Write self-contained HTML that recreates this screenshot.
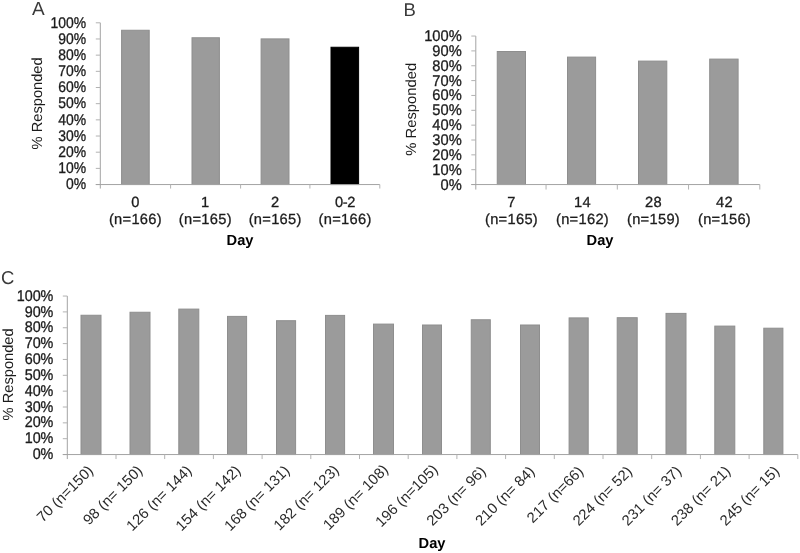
<!DOCTYPE html>
<html lang="en">
<head>
<meta charset="utf-8">
<title>Response rates by day</title>
<style>
html,body{margin:0;padding:0;background:#fff;}
body{width:800px;height:553px;overflow:hidden;}
svg{display:block;filter:blur(0.35px);}
text{font-family:"Liberation Sans", Arial, sans-serif;font-size:14.67px;text-anchor:middle;fill:#1c1c1c;text-rendering:geometricPrecision;}
text.e{text-anchor:end;}
text.x{stroke:#1c1c1c;stroke-width:0.3px;}
text.s{text-anchor:start;}
text.b{font-weight:bold;fill:#000;}
text.r{fill:#2b2b2b;}
text.h{fill:#3a3a3a;}
line{stroke:#a3a3a3;stroke-width:1;}
line.t{stroke:#b2b2b2;}
rect.bar{fill:#9b9b9b;stroke:#8e8e8e;stroke-width:1;}
rect.k{fill:#000;stroke:#000;}
</style>
</head>
<body>
<svg width="800" height="553" viewBox="0 0 800 553">
<rect x="0" y="0" width="800" height="553" fill="#ffffff"/>
<g id="chart-a">
<line x1="100.3" y1="22.8" x2="100.3" y2="188.55"/>
<line class="t" x1="95.8" y1="22.8" x2="100.3" y2="22.8"/>
<text class="x e" transform="translate(86.2 27.5) scale(0.95 1.06)">100%</text>
<line class="t" x1="95.8" y1="38.97" x2="100.3" y2="38.97"/>
<text class="x e" transform="translate(86.2 43.67) scale(0.95 1.06)">90%</text>
<line class="t" x1="95.8" y1="55.15" x2="100.3" y2="55.15"/>
<text class="x e" transform="translate(86.2 59.85) scale(0.95 1.06)">80%</text>
<line class="t" x1="95.8" y1="71.33" x2="100.3" y2="71.33"/>
<text class="x e" transform="translate(86.2 76.03) scale(0.95 1.06)">70%</text>
<line class="t" x1="95.8" y1="87.5" x2="100.3" y2="87.5"/>
<text class="x e" transform="translate(86.2 92.2) scale(0.95 1.06)">60%</text>
<line class="t" x1="95.8" y1="103.67" x2="100.3" y2="103.67"/>
<text class="x e" transform="translate(86.2 108.38) scale(0.95 1.06)">50%</text>
<line class="t" x1="95.8" y1="119.85" x2="100.3" y2="119.85"/>
<text class="x e" transform="translate(86.2 124.55) scale(0.95 1.06)">40%</text>
<line class="t" x1="95.8" y1="136.03" x2="100.3" y2="136.03"/>
<text class="x e" transform="translate(86.2 140.73) scale(0.95 1.06)">30%</text>
<line class="t" x1="95.8" y1="152.2" x2="100.3" y2="152.2"/>
<text class="x e" transform="translate(86.2 156.9) scale(0.95 1.06)">20%</text>
<line class="t" x1="95.8" y1="168.38" x2="100.3" y2="168.38"/>
<text class="x e" transform="translate(86.2 173.08) scale(0.95 1.06)">10%</text>
<line class="t" x1="95.8" y1="184.55" x2="100.3" y2="184.55"/>
<text class="x e" transform="translate(86.2 189.25) scale(0.95 1.06)">0%</text>
<rect class="bar" x="121.6" y="30.25" width="27.6" height="154.3"/>
<rect class="bar" x="192" y="37.75" width="27.4" height="146.8"/>
<rect class="bar" x="261.1" y="38.9" width="27.9" height="145.65"/>
<rect class="bar k" x="331" y="47.25" width="27.6" height="137.3"/>
<line x1="95.8" y1="184.55" x2="379.8" y2="184.55"/>
<line class="t" x1="170.6" y1="184.55" x2="170.6" y2="188.55"/>
<line class="t" x1="240.6" y1="184.55" x2="240.6" y2="188.55"/>
<line class="t" x1="309.9" y1="184.55" x2="309.9" y2="188.55"/>
<line class="t" x1="379.8" y1="184.55" x2="379.8" y2="188.55"/>
<text class="x" style="letter-spacing:0.3px" transform="translate(135.44 206.5)">0</text>
<text class="x" style="letter-spacing:0.3px" transform="translate(135.44 224)">(n=166)</text>
<text class="x" style="letter-spacing:0.3px" transform="translate(205.31 206.5)">1</text>
<text class="x" style="letter-spacing:0.3px" transform="translate(205.31 224)">(n=165)</text>
<text class="x" style="letter-spacing:0.3px" transform="translate(275.19 206.5)">2</text>
<text class="x" style="letter-spacing:0.3px" transform="translate(275.19 224)">(n=165)</text>
<text class="x" style="letter-spacing:-0.35px" transform="translate(345.06 206.5)">0-2</text>
<text class="x" style="letter-spacing:0.3px" transform="translate(345.06 224)">(n=166)</text>
<text transform="translate(41.9 103.4) rotate(-90)">% Responded</text>
<text class="b" transform="translate(240 245.3)">Day</text>
<text class="h s" style="font-size:19px" transform="translate(31.9 15.2)">A</text>
</g>
<g id="chart-b">
<line x1="475.8" y1="36.05" x2="475.8" y2="189.55"/>
<line class="t" x1="471.3" y1="36.05" x2="475.8" y2="36.05"/>
<text class="x e" transform="translate(461.7 41) scale(1 1.06)">100%</text>
<line class="t" x1="471.3" y1="50.9" x2="475.8" y2="50.9"/>
<text class="x e" transform="translate(461.7 55.85) scale(1 1.06)">90%</text>
<line class="t" x1="471.3" y1="65.75" x2="475.8" y2="65.75"/>
<text class="x e" transform="translate(461.7 70.7) scale(1 1.06)">80%</text>
<line class="t" x1="471.3" y1="80.6" x2="475.8" y2="80.6"/>
<text class="x e" transform="translate(461.7 85.55) scale(1 1.06)">70%</text>
<line class="t" x1="471.3" y1="95.45" x2="475.8" y2="95.45"/>
<text class="x e" transform="translate(461.7 100.4) scale(1 1.06)">60%</text>
<line class="t" x1="471.3" y1="110.3" x2="475.8" y2="110.3"/>
<text class="x e" transform="translate(461.7 115.25) scale(1 1.06)">50%</text>
<line class="t" x1="471.3" y1="125.15" x2="475.8" y2="125.15"/>
<text class="x e" transform="translate(461.7 130.1) scale(1 1.06)">40%</text>
<line class="t" x1="471.3" y1="140" x2="475.8" y2="140"/>
<text class="x e" transform="translate(461.7 144.95) scale(1 1.06)">30%</text>
<line class="t" x1="471.3" y1="154.85" x2="475.8" y2="154.85"/>
<text class="x e" transform="translate(461.7 159.8) scale(1 1.06)">20%</text>
<line class="t" x1="471.3" y1="169.7" x2="475.8" y2="169.7"/>
<text class="x e" transform="translate(461.7 174.65) scale(1 1.06)">10%</text>
<line class="t" x1="471.3" y1="184.55" x2="475.8" y2="184.55"/>
<text class="x e" transform="translate(461.7 189.5) scale(1 1.06)">0%</text>
<rect class="bar" x="497.25" y="51.5" width="28.25" height="133.05"/>
<rect class="bar" x="567.5" y="57.1" width="28.1" height="127.45"/>
<rect class="bar" x="638.5" y="61.1" width="28.3" height="123.45"/>
<rect class="bar" x="709.7" y="59.1" width="28.4" height="125.45"/>
<line x1="471.3" y1="184.55" x2="759.8" y2="184.55"/>
<line class="t" x1="546.05" y1="184.55" x2="546.05" y2="189.55"/>
<line class="t" x1="617.3" y1="184.55" x2="617.3" y2="189.55"/>
<line class="t" x1="688.55" y1="184.55" x2="688.55" y2="189.55"/>
<line class="t" x1="759.8" y1="184.55" x2="759.8" y2="189.55"/>
<text class="x" style="letter-spacing:0.3px" transform="translate(511.5 206.5)">7</text>
<text class="x" style="letter-spacing:0.3px" transform="translate(511.5 224)">(n=165)</text>
<text class="x" style="letter-spacing:0.3px" transform="translate(582.5 206.5)">14</text>
<text class="x" style="letter-spacing:0.3px" transform="translate(582.5 224)">(n=162)</text>
<text class="x" style="letter-spacing:0.3px" transform="translate(653.5 206.5)">28</text>
<text class="x" style="letter-spacing:0.3px" transform="translate(653.5 224)">(n=159)</text>
<text class="x" style="letter-spacing:0.3px" transform="translate(724.5 206.5)">42</text>
<text class="x" style="letter-spacing:0.3px" transform="translate(724.5 224)">(n=156)</text>
<text transform="translate(415.9 109.3) rotate(-90) scale(1.01 1)">% Responded</text>
<text class="b" transform="translate(600 245.3)">Day</text>
<text class="h s" style="font-size:18.5px" transform="translate(403.4 15.8)">B</text>
</g>
<g id="chart-c">
<line x1="67.3" y1="296.05" x2="67.3" y2="459.05"/>
<line class="t" x1="62.8" y1="296.05" x2="67.3" y2="296.05"/>
<text class="x e" transform="translate(53.4 300.65) scale(0.98 1.06)">100%</text>
<line class="t" x1="62.8" y1="311.9" x2="67.3" y2="311.9"/>
<text class="x e" transform="translate(53.4 316.5) scale(0.98 1.06)">90%</text>
<line class="t" x1="62.8" y1="327.75" x2="67.3" y2="327.75"/>
<text class="x e" transform="translate(53.4 332.35) scale(0.98 1.06)">80%</text>
<line class="t" x1="62.8" y1="343.6" x2="67.3" y2="343.6"/>
<text class="x e" transform="translate(53.4 348.2) scale(0.98 1.06)">70%</text>
<line class="t" x1="62.8" y1="359.45" x2="67.3" y2="359.45"/>
<text class="x e" transform="translate(53.4 364.05) scale(0.98 1.06)">60%</text>
<line class="t" x1="62.8" y1="375.3" x2="67.3" y2="375.3"/>
<text class="x e" transform="translate(53.4 379.9) scale(0.98 1.06)">50%</text>
<line class="t" x1="62.8" y1="391.15" x2="67.3" y2="391.15"/>
<text class="x e" transform="translate(53.4 395.75) scale(0.98 1.06)">40%</text>
<line class="t" x1="62.8" y1="407" x2="67.3" y2="407"/>
<text class="x e" transform="translate(53.4 411.6) scale(0.98 1.06)">30%</text>
<line class="t" x1="62.8" y1="422.85" x2="67.3" y2="422.85"/>
<text class="x e" transform="translate(53.4 427.45) scale(0.98 1.06)">20%</text>
<line class="t" x1="62.8" y1="438.7" x2="67.3" y2="438.7"/>
<text class="x e" transform="translate(53.4 443.3) scale(0.98 1.06)">10%</text>
<line class="t" x1="62.8" y1="454.55" x2="67.3" y2="454.55"/>
<text class="x e" transform="translate(53.4 459.15) scale(0.98 1.06)">0%</text>
<rect class="bar" x="81" y="315.25" width="20" height="139.3"/>
<rect class="bar" x="130" y="312.25" width="20" height="142.3"/>
<rect class="bar" x="178.8" y="309.1" width="20" height="145.45"/>
<rect class="bar" x="227.5" y="316.4" width="19.1" height="138.15"/>
<rect class="bar" x="276.5" y="320.7" width="19.1" height="133.85"/>
<rect class="bar" x="325.5" y="315.4" width="19.1" height="139.15"/>
<rect class="bar" x="373.5" y="324.1" width="20" height="130.45"/>
<rect class="bar" x="422.5" y="325" width="19" height="129.55"/>
<rect class="bar" x="471.25" y="319.75" width="19.05" height="134.8"/>
<rect class="bar" x="520.5" y="325" width="19" height="129.55"/>
<rect class="bar" x="569.1" y="317.9" width="19.1" height="136.65"/>
<rect class="bar" x="617.2" y="317.7" width="20" height="136.85"/>
<rect class="bar" x="666" y="313.4" width="20" height="141.15"/>
<rect class="bar" x="714.8" y="326.1" width="20" height="128.45"/>
<rect class="bar" x="763.8" y="328.2" width="19.1" height="126.35"/>
<line x1="62.8" y1="454.55" x2="797.8" y2="454.55"/>
<line class="t" x1="116" y1="454.55" x2="116" y2="459.05"/>
<line class="t" x1="164.7" y1="454.55" x2="164.7" y2="459.05"/>
<line class="t" x1="213.4" y1="454.55" x2="213.4" y2="459.05"/>
<line class="t" x1="262.1" y1="454.55" x2="262.1" y2="459.05"/>
<line class="t" x1="310.8" y1="454.55" x2="310.8" y2="459.05"/>
<line class="t" x1="359.5" y1="454.55" x2="359.5" y2="459.05"/>
<line class="t" x1="408.2" y1="454.55" x2="408.2" y2="459.05"/>
<line class="t" x1="456.9" y1="454.55" x2="456.9" y2="459.05"/>
<line class="t" x1="505.6" y1="454.55" x2="505.6" y2="459.05"/>
<line class="t" x1="554.3" y1="454.55" x2="554.3" y2="459.05"/>
<line class="t" x1="603" y1="454.55" x2="603" y2="459.05"/>
<line class="t" x1="651.7" y1="454.55" x2="651.7" y2="459.05"/>
<line class="t" x1="700.4" y1="454.55" x2="700.4" y2="459.05"/>
<line class="t" x1="749.1" y1="454.55" x2="749.1" y2="459.05"/>
<line class="t" x1="797.8" y1="454.55" x2="797.8" y2="459.05"/>
<text class="r e" transform="translate(94.15 471.45) rotate(-45) scale(1.02 1)">70 (n=150)</text>
<text class="r e" transform="translate(143.35 471.45) rotate(-45) scale(1.02 1)">98 (n= 150)</text>
<text class="r e" transform="translate(192.55 471.45) rotate(-45) scale(1.02 1)">126 (n= 144)</text>
<text class="r e" transform="translate(241.65 471.45) rotate(-45) scale(1.02 1)">154 (n= 142)</text>
<text class="r e" transform="translate(290.45 471.45) rotate(-45) scale(1.02 1)">168 (n= 131)</text>
<text class="r e" transform="translate(339.85 470.95) rotate(-45) scale(1.02 1)">182 (n= 123)</text>
<text class="r e" transform="translate(389.15 470.45) rotate(-45) scale(1.02 1)">189 (n= 108)</text>
<text class="r e" transform="translate(438.65 470.45) rotate(-45) scale(1.02 1)">196 (n=105)</text>
<text class="r e" transform="translate(486.75 472.25) rotate(-45) scale(1.02 1)">203 (n= 96)</text>
<text class="r e" transform="translate(535.55 472.25) rotate(-45) scale(1.02 1)">210 (n= 84)</text>
<text class="r e" transform="translate(584.25 472.25) rotate(-45) scale(1.02 1)">217 (n=66)</text>
<text class="r e" transform="translate(633.05 472.25) rotate(-45) scale(1.02 1)">224 (n= 52)</text>
<text class="r e" transform="translate(682.15 472.05) rotate(-45) scale(1.02 1)">231 (n= 37)</text>
<text class="r e" transform="translate(731.35 472.05) rotate(-45) scale(1.02 1)">238 (n= 21)</text>
<text class="r e" transform="translate(780.15 472.05) rotate(-45) scale(1.02 1)">245 (n= 15)</text>
<text transform="translate(13.3 374.4) rotate(-90)">% Responded</text>
<text class="b" transform="translate(432 547.5)">Day</text>
<text class="h s" style="font-size:18.5px" transform="translate(1.1 283.8)">C</text>
</g>
</svg>
</body>
</html>
